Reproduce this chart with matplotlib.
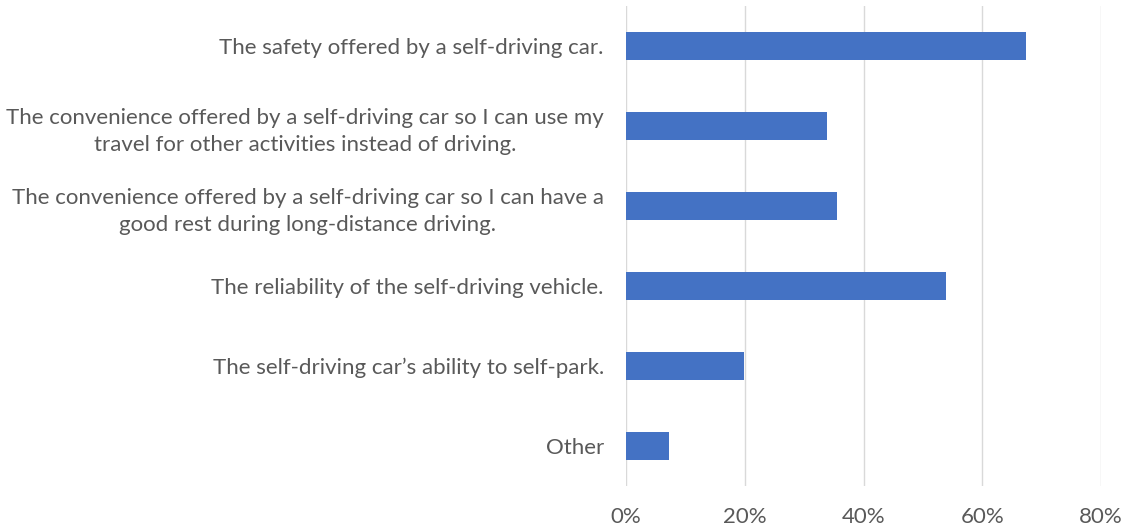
import matplotlib.pyplot as plt
from matplotlib.ticker import PercentFormatter

# data
labels = [
    "The safety offered by a self-driving car.",
    "The convenience offered by a self-driving car so I can use my\ntravel for other activities instead of driving.",
    "The convenience offered by a self-driving car so I can have a\ngood rest during long-distance driving.",
    "The reliability of the self-driving vehicle.",
    "The self-driving car\u2019s ability to self-park.",
    "Other",
]
values = [67.3, 33.9, 35.6, 53.9, 19.9, 7.3]
xticks = [0, 20, 40, 60, 80]

plt.rcParams['font.family'] = ['Lato', 'DejaVu Sans']

fig = plt.figure(figsize=(11.31, 5.31), dpi=100)
ax = fig.add_axes([0.5535, 0.0847, 0.42, 0.904])

y = list(range(len(labels)))
ax.barh(y, values, height=0.35, color='#4472C4', zorder=3)
ax.set_ylim(len(labels) - 0.5, -0.5)
ax.set_xlim(0, 80)
ax.set_xticks(xticks)
ax.xaxis.set_major_formatter(PercentFormatter(decimals=0))
ax.grid(axis='x', color='#d9d9d9', linewidth=1, zorder=0)

ax.set_yticks(y)
ax.set_yticklabels(labels, multialignment='center', linespacing=1.45)
ax.tick_params(axis='y', length=0, pad=16, labelsize=16, labelcolor='#595959')
ax.tick_params(axis='x', length=0, pad=15, labelsize=16, labelcolor='#595959')

for s in ax.spines.values():
    s.set_visible(False)

fig.savefig('out.png', dpi=100)
